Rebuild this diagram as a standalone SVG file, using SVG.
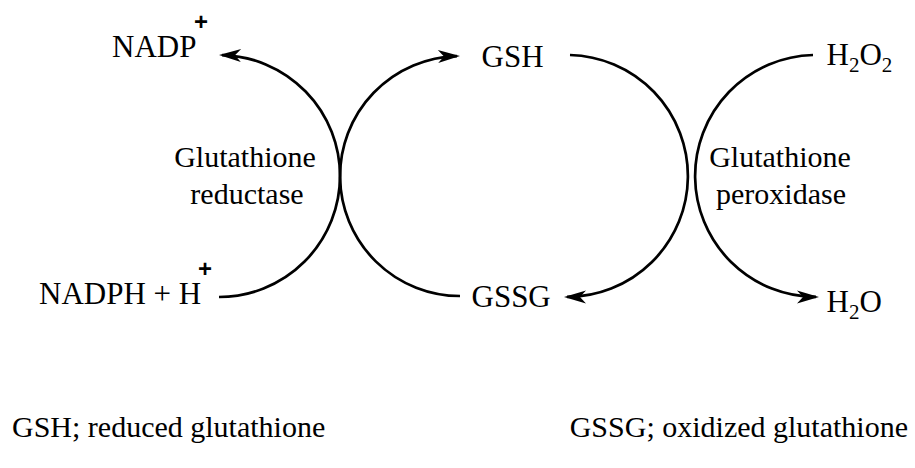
<svg xmlns="http://www.w3.org/2000/svg" width="915" height="468" viewBox="0 0 915 468">
<style>
.t{font-family:"Liberation Serif","Times New Roman",serif;font-size:30px;fill:#000}
.m{font-size:31px}
.s{font-size:21px}
.p{font-family:"Liberation Sans",Arial,sans-serif;font-size:24px;font-weight:bold;fill:#000}
.c{fill:none;stroke:#000;stroke-width:2.7}
</style>
<defs>
<marker id="ah" markerUnits="userSpaceOnUse" markerWidth="30" markerHeight="20" viewBox="-24 -10 30 20" refX="-3" refY="0" orient="auto" overflow="visible">
<path d="M0,0 L-22,-6.5 L-16,0 L-22,6.5 Z" fill="#000"/>
</marker>
</defs>
<g id="connectors">
<path class="c" d="M219,297 A121,121 0 0 0 340,176 A121,121 0 0 0 222,55.04" marker-end="url(#ah)"/>
<path class="c" d="M460,296 A120,120 0 0 1 457,56.04" marker-end="url(#ah)"/>
<path class="c" d="M570,55 A121,121 0 0 1 567,296.96" marker-end="url(#ah)"/>
<path class="c" d="M813,55 A121,121 0 0 0 816,296.96" marker-end="url(#ah)"/>
</g>
<g id="nadp"><text class="t m" x="112" y="57">NADP</text><text class="p" x="201" y="30" text-anchor="middle">+</text></g>
<g id="nadph"><text class="t m" x="39" y="304">NADPH + H</text><text class="p" x="205" y="277" text-anchor="middle">+</text></g>
<g id="gsh"><text class="t m" x="481.5" y="67">GSH</text></g>
<g id="gssg"><text class="t m" x="471.5" y="307">GSSG</text></g>
<g id="h2o2"><text class="t m" x="826.5" y="65">H<tspan class="s" dy="7">2</tspan><tspan dy="-7">O</tspan><tspan class="s" dy="7">2</tspan></text></g>
<g id="h2o"><text class="t m" x="826.5" y="312">H<tspan class="s" dy="7">2</tspan><tspan dy="-7">O</tspan></text></g>
<g id="gr"><text class="t" x="245" y="167" text-anchor="middle">Glutathione</text><text class="t" x="247" y="204" text-anchor="middle">reductase</text></g>
<g id="gp"><text class="t" x="780" y="167" text-anchor="middle">Glutathione</text><text class="t" x="781" y="204" text-anchor="middle">peroxidase</text></g>
<g id="legend-gsh"><text class="t" x="12" y="437">GSH; reduced glutathione</text></g>
<g id="legend-gssg"><text class="t" x="908" y="437" text-anchor="end">GSSG; oxidized glutathione</text></g>
</svg>
